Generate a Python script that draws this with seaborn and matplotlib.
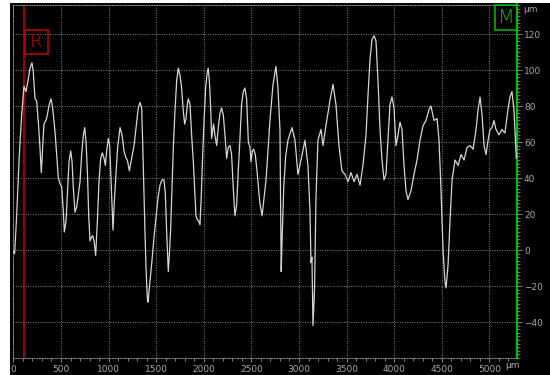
import matplotlib
matplotlib.use("Agg")
import matplotlib.pyplot as plt
from matplotlib.patches import Rectangle
from matplotlib.ticker import FixedLocator, MultipleLocator
import pandas as pd
import seaborn as sns

# Surface profile: position along the trace (µm) and height (µm)
position_um = [
    0, 13, 34, 62, 87, 111, 132, 157, 174, 195, 209, 227, 244, 262, 279, 293,
    307, 321, 349, 377, 395, 412, 437, 454, 472, 489, 507, 525, 535, 553, 567,
    584, 602, 616, 630, 647, 665, 682, 700, 717, 735, 749, 763, 777, 791, 805,
    819, 833, 847, 864, 882, 899, 917, 934, 952, 966, 980, 997, 1011, 1025,
    1036, 1046, 1060, 1078, 1095, 1120, 1141, 1162, 1183, 1197, 1218, 1242,
    1267, 1288, 1312, 1330, 1347, 1358, 1372, 1382, 1393, 1407, 1414, 1428,
    1452, 1477, 1498, 1519, 1540, 1561, 1582, 1596, 1610, 1627, 1638, 1652,
    1666, 1680, 1697, 1715, 1732, 1750, 1767, 1785, 1799, 1813, 1827, 1837,
    1855, 1872, 1890, 1907, 1918, 1932, 1946, 1960, 1974, 1988, 2002, 2019,
    2037, 2047, 2061, 2075, 2082, 2093, 2103, 2117, 2135, 2152, 2170, 2187,
    2205, 2222, 2240, 2257, 2275, 2292, 2310, 2327, 2345, 2362, 2380, 2397,
    2415, 2432, 2450, 2468, 2485, 2496, 2510, 2524, 2541, 2559, 2576, 2587,
    2612, 2654, 2695, 2727, 2758, 2779, 2800, 2808, 2813, 2822, 2840, 2860,
    2884, 2926, 2958, 2989, 3021, 3063, 3094, 3115, 3126, 3136, 3147, 3163,
    3178, 3199, 3231, 3252, 3283, 3325, 3357, 3388, 3420, 3451, 3483, 3515,
    3546, 3578, 3609, 3641, 3672, 3704, 3725, 3746, 3767, 3790, 3809, 3830,
    3851, 3872, 3893, 3914, 3935, 3956, 3977, 3998, 4019, 4040, 4061, 4082,
    4103, 4124, 4145, 4177, 4208, 4240, 4271, 4303, 4334, 4366, 4386, 4418,
    4450, 4471, 4492, 4513, 4534, 4545, 4566, 4587, 4608, 4639, 4671, 4702,
    4734, 4765, 4797, 4828, 4860, 4881, 4902, 4923, 4944, 4965, 4986, 5007,
    5028, 5048, 5069, 5101, 5132, 5163, 5195, 5216, 5237, 5258, 5283,
]
height_um = [
    -1, -2, 19, 53, 75, 91, 88, 95, 101, 104, 99, 84, 83, 71, 57, 43,
    57, 70, 73, 81, 84, 79, 66, 53, 40, 37, 35, 21, 10, 16, 31,
    49, 55, 49, 34, 21, 24, 31, 38, 53, 64, 68, 60, 44, 19, 5,
    7, 8, 5, -3, 16, 38, 51, 54, 51, 47, 55, 62, 58, 40,
    25, 11, 27, 42, 57, 68, 64, 55, 51, 50, 44, 51,
    58, 68, 79, 82, 79, 60, 31, 10, -10, -27, -29, -21,
    -8, 7, 18, 29, 36, 39, 39, 31, 10, -12, -3, 12,
    34, 57, 77, 94, 101, 97, 90, 77, 70, 73, 81, 84,
    81, 64, 49, 31, 19, 17, 16, 14, 31, 53, 71, 90,
    99, 101, 92, 75, 62, 66, 70, 64, 58, 68, 76, 79,
    75, 64, 51, 57, 58, 53, 34, 19, 25, 44, 62, 81,
    88, 90, 84, 60, 57, 49, 55, 56, 53, 44, 34, 27,
    19, 39, 72, 92, 102, 90, 67, 20, -12, 5, 35, 52,
    61, 68, 61, 42, 50, 61, 47, 22, -7, -4, -42, -22,
    28, 61, 67, 58, 69, 83, 92, 81, 58, 44, 42, 38,
    43, 38, 42, 36, 47, 64, 86, 106, 117, 119, 116, 94,
    67, 50, 39, 42, 61, 81, 85, 79, 58, 64, 71, 67,
    47, 33, 28, 33, 42, 50, 61, 69, 72, 78, 80, 72,
    73, 61, 33, 0, -18, -21, -8, 17, 39, 50, 47, 53,
    50, 57, 58, 56, 67, 78, 85, 75, 58, 53, 61, 67,
    68, 72, 67, 64, 67, 65, 78, 85, 88, 78, 51,
]

x_ticks = [0, 500, 1000, 1500, 2000, 2500, 3000, 3500, 4000, 4500, 5000]
y_ticks = [-40, -20, 0, 20, 40, 60, 80, 100, 120]
x_limits = (0, 5290)
y_limits = (-60, 136.4)
reference_cursor_um = 110
unit = "µm"
reference_tag = "R"
measure_tag = "M"

W, H = 550, 375
GRID = "#858585"
TICK_TEXT = "#a8a8a8"
RED = "#c80000"
GREEN = "#00c000"

profile = pd.DataFrame({"position": position_um, "height": height_um})

fig = plt.figure(figsize=(W / 100, H / 100), dpi=100, facecolor="white")

# black instrument panel behind the plot
fig.add_artist(Rectangle((10 / W, 0), 1 - 10 / W, 1 - 3 / H,
                         transform=fig.transFigure, facecolor="black",
                         edgecolor="none", zorder=-5))

left, right, bottom, top = 13.4, 517.0, 358.0, 4.5
ax = fig.add_axes([left / W, 1 - bottom / H, (right - left) / W, (bottom - top) / H])
ax.set_facecolor("black")

sns.lineplot(data=profile, x="position", y="height", ax=ax, color="#d6d6d6",
             linewidth=0.9, estimator=None, sort=False, zorder=3)

ax.set_xlim(*x_limits)
ax.set_ylim(*y_limits)
ax.set_xlabel("")
ax.set_ylabel("")

ax.xaxis.set_major_locator(FixedLocator(x_ticks))
ax.xaxis.set_minor_locator(MultipleLocator(100))
ax.yaxis.set_major_locator(FixedLocator(y_ticks))
ax.yaxis.set_minor_locator(MultipleLocator(2))
ax.yaxis.tick_right()

ax.grid(True, which="major", color=GRID, linestyle=(0, (1, 1.5)), linewidth=0.7)
ax.tick_params(axis="x", which="major", length=3, width=0.7, color=GRID,
               labelcolor=TICK_TEXT, labelsize=6.5, pad=2)
ax.tick_params(axis="x", which="minor", length=2, width=0.7, color=GRID)
ax.tick_params(axis="y", which="major", length=3.5, width=0.7, color=GRID,
               labelcolor=TICK_TEXT, labelsize=6.5, pad=1.5, left=False, right=True)
ax.tick_params(axis="y", which="minor", length=2, width=0.6, color=GRID,
               left=False, right=True)

for side in ("left", "top", "bottom"):
    ax.spines[side].set_color(GRID)
    ax.spines[side].set_linestyle((0, (1, 1.5)))
    ax.spines[side].set_linewidth(0.75)
ax.spines["right"].set_color(GREEN)
ax.spines["right"].set_linewidth(1.6)

# reference cursor
ax.axvline(reference_cursor_um, color=RED, linewidth=1.1, zorder=2)

# cursor tags
fig.add_artist(Rectangle((25 / W, 1 - 54 / H), 23 / W, 24 / H, transform=fig.transFigure,
                         fill=False, edgecolor=RED, linewidth=1.1, zorder=5))
fig.text(36.5 / W, 1 - 42 / H, reference_tag, color=RED, fontsize=13,
         fontweight="light", ha="center", va="center", family="DejaVu Sans")
fig.add_artist(Rectangle((495 / W, 1 - 30 / H), 22 / W, 25 / H, transform=fig.transFigure,
                         fill=False, edgecolor=GREEN, linewidth=1.1, zorder=5))
fig.text(506 / W, 1 - 17.5 / H, measure_tag, color=GREEN, fontsize=14,
         fontweight="light", ha="center", va="center", family="DejaVu Sans")

# axis units
fig.text(523 / W, 1 - 10 / H, unit, color=TICK_TEXT, fontsize=6.5, ha="left", va="center")
fig.text(512 / W, 1 - 366 / H, unit, color=TICK_TEXT, fontsize=6.5, ha="center", va="center")

fig.savefig("out.png", dpi=100, facecolor=fig.get_facecolor())
